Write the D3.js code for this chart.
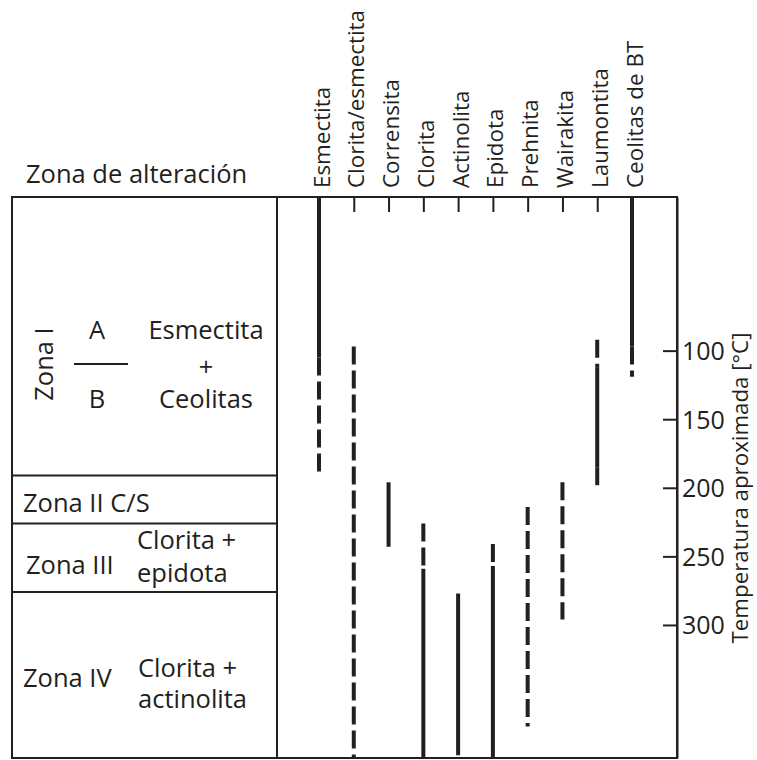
<!DOCTYPE html>
<html>
<head>
<meta charset="utf-8">
<script src="https://cdn.jsdelivr.net/npm/d3@7"></script>
<style>
  body { margin: 0; background: #fff; }
  svg { display: block; }
</style>
</head>
<body>
<svg id="chart" width="757" height="760"></svg>
<script>
// Minerals shown as columns, left to right
const minerals = ["Esmectita", "Clorita/esmectita", "Corrensita", "Clorita", "Actinolita",
                  "Epidota", "Prehnita", "Wairakita", "Laumontita", "Ceolitas de BT"];

// Temperature span of the diagram (°C), top to bottom
const tempRange = [-12, 397];
const tempTicks = [100, 150, 200, 250, 300];

// Boundaries between alteration zones (°C)
const zoneBounds = [191, 226, 276];

// Occurrence ranges: mineral, from °C, to °C, certain (solid) / probable (dashed)
const occMineral = ["Esmectita", "Esmectita", "Clorita/esmectita", "Corrensita", "Clorita", "Clorita",
                    "Actinolita", "Epidota", "Epidota", "Prehnita", "Wairakita",
                    "Laumontita", "Laumontita", "Laumontita", "Ceolitas de BT", "Ceolitas de BT"];
const occFrom    = [-12, 105,  97, 196, 226, 259, 277, 241, 257, 214, 196,  92, 112, 185, -12,  97];
const occTo      = [105, 191, 397, 243, 259, 397, 395, 257, 397, 374, 296, 112, 185, 202,  97, 119];
const occCertain = [true, false, false, true, false, true, true, false, true, false, false,
                    false, true, false, true, false];

const ink = "#231f20";
const font = "'Open Sans', 'Noto Sans', sans-serif";

const svg = d3.select("#chart");

// Layout
const frameLeft = 12, frameSplit = 277, frameRight = 677, frameTop = 197, frameBottom = 758;

const x = d3.scalePoint().domain(minerals).range([319, 632]);
const y = d3.scaleLinear().domain(tempRange).range([frameTop, frameBottom]);

// Frame of the table
svg.append("rect")
  .attr("x", frameLeft).attr("y", frameTop)
  .attr("width", frameRight - frameLeft).attr("height", frameBottom - frameTop)
  .attr("fill", "none").attr("stroke", ink).attr("stroke-width", 2);

svg.append("line")
  .attr("x1", frameSplit).attr("x2", frameSplit).attr("y1", frameTop).attr("y2", frameBottom)
  .attr("stroke", ink).attr("stroke-width", 2);

// Zone dividers
svg.selectAll(".zone-line")
  .data(zoneBounds)
  .join("line")
  .attr("class", "zone-line")
  .attr("x1", frameLeft).attr("x2", frameSplit)
  .attr("y1", d => y(d)).attr("y2", d => y(d))
  .attr("stroke", ink).attr("stroke-width", 2);

// Column header axis along the top edge
const topAxis = svg.append("g")
  .attr("transform", `translate(0,${frameTop})`)
  .call(d3.axisTop(x).tickSize(-15).tickSizeOuter(0).tickPadding(0));
topAxis.select(".domain").remove();
topAxis.selectAll(".tick line").attr("stroke", ink).attr("stroke-width", 2);
topAxis.selectAll(".tick text")
  .attr("transform", "rotate(-90)")
  .attr("x", 9).attr("y", 10).attr("dy", 0)
  .attr("text-anchor", "start")
  .attr("fill", ink)
  .style("font-family", font)
  .style("font-size", "22.4px");

// Temperature axis on the right
const rightAxis = svg.append("g")
  .attr("transform", `translate(${frameRight},0)`)
  .call(d3.axisRight(y).tickValues(tempTicks).tickSize(-14).tickSizeOuter(0).tickPadding(5));
rightAxis.select(".domain").attr("stroke", ink).attr("stroke-width", 2);
rightAxis.selectAll(".tick line").attr("stroke", ink).attr("stroke-width", 2);
rightAxis.selectAll(".tick text")
  .attr("fill", ink)
  .attr("dy", "0.36em")
  .style("font-family", font)
  .style("font-size", "25px");

svg.append("text")
  .attr("transform", `translate(748,488) rotate(-90)`)
  .attr("text-anchor", "middle")
  .attr("fill", ink)
  .style("font-family", font)
  .style("font-size", "22.3px")
  .text("Temperatura aproximada [°C]");

// Occurrence ranges
const occ = occMineral.map((m, i) => ({ m, from: occFrom[i], to: occTo[i], certain: occCertain[i] }));
svg.append("g")
  .selectAll("line")
  .data(occ)
  .join("line")
  .attr("x1", d => x(d.m)).attr("x2", d => x(d.m))
  .attr("y1", d => y(d.from)).attr("y2", d => y(d.to))
  .attr("stroke", ink)
  .attr("stroke-width", 4)
  .attr("stroke-dasharray", d => d.certain ? null : "18,6");

// Left-hand column: alteration zones
const txt = (xp, yp, s, anchor = "start", size = 25.5) =>
  svg.append("text")
    .attr("x", xp).attr("y", yp)
    .attr("text-anchor", anchor)
    .attr("fill", ink)
    .style("font-family", font)
    .style("font-size", size + "px")
    .text(s);

txt(26, 183, "Zona de alteración");

svg.append("text")
  .attr("transform", "translate(53,364) rotate(-90)")
  .attr("text-anchor", "middle")
  .attr("fill", ink)
  .style("font-family", font)
  .style("font-size", "25.5px")
  .text("Zona I");
txt(97, 339, "A", "middle");
svg.append("line")
  .attr("x1", 74).attr("x2", 128).attr("y1", 364).attr("y2", 364)
  .attr("stroke", ink).attr("stroke-width", 2);
txt(97, 408, "B", "middle");
txt(206, 339, "Esmectita", "middle");
txt(206, 376, "+", "middle");
txt(206, 408, "Ceolitas", "middle");

txt(23, 512, "Zona II C/S");
txt(26, 574, "Zona III");
txt(137, 549, "Clorita +");
txt(137, 582, "epidota");
txt(23, 687, "Zona IV");
txt(138, 677, "Clorita +");
txt(138, 708, "actinolita");
</script>
</body>
</html>
